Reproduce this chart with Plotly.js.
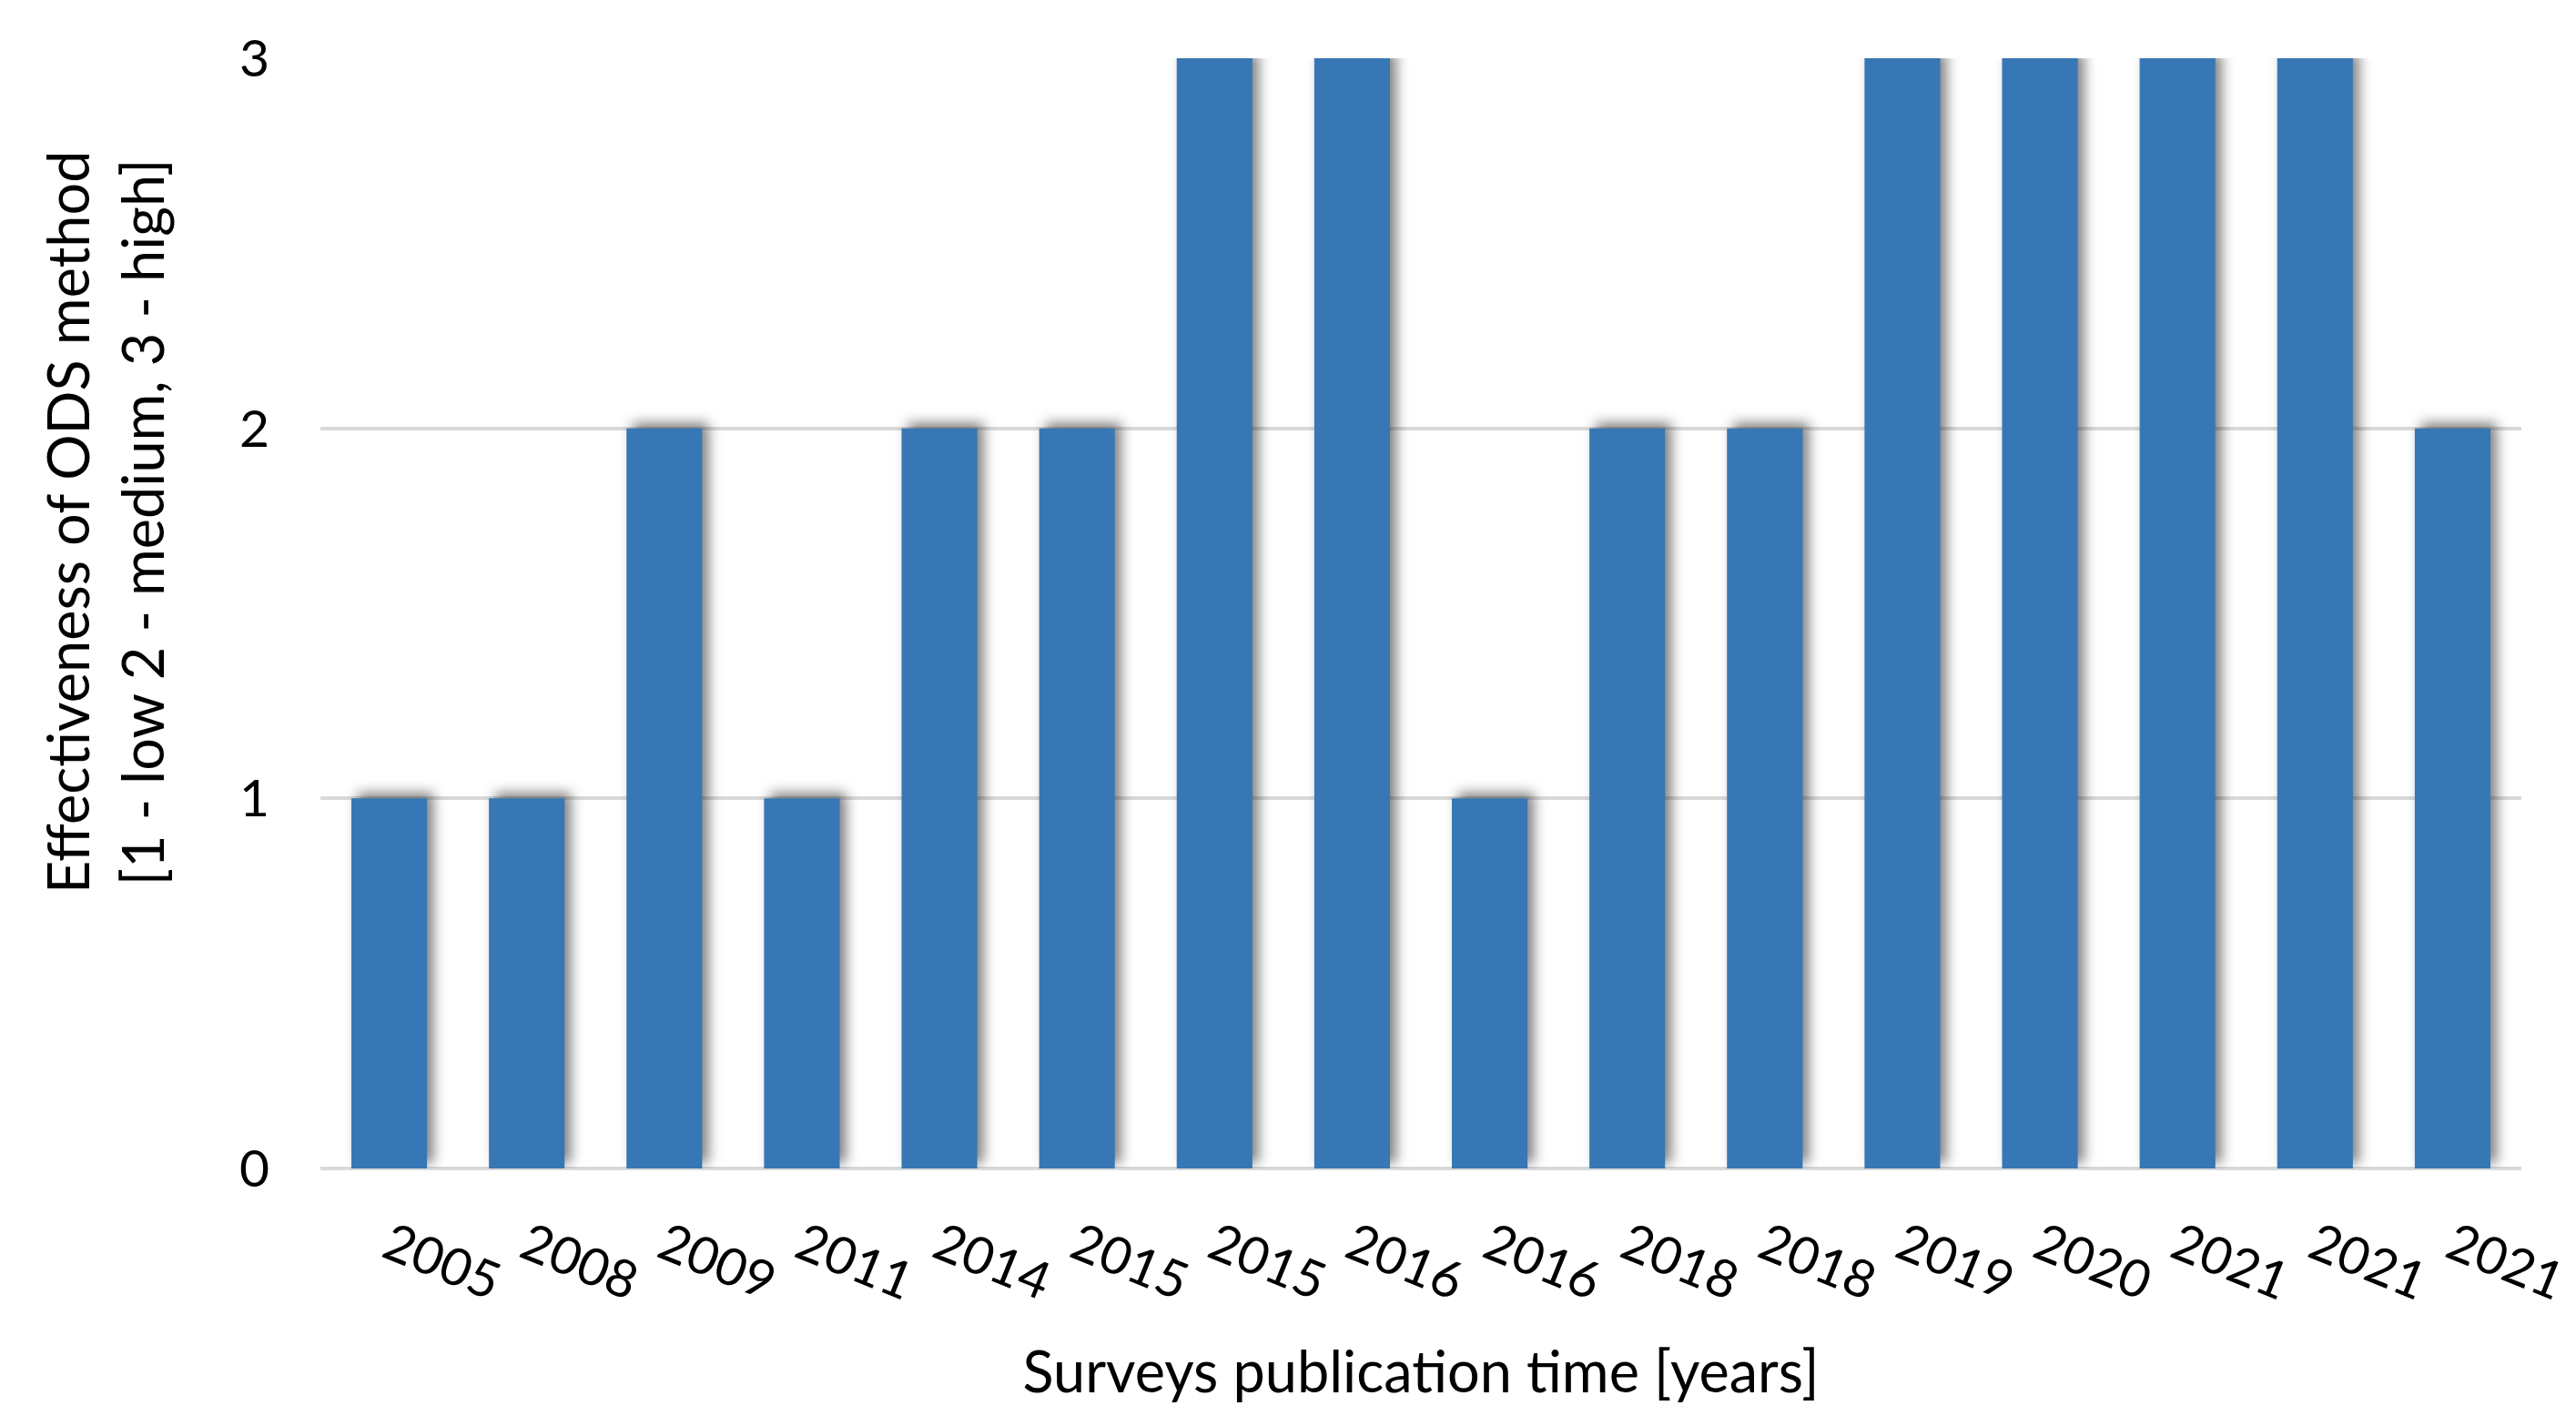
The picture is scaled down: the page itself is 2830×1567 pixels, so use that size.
<!DOCTYPE html>
<html>
<head>
<meta charset="utf-8">
<script src="https://cdn.plot.ly/plotly-3.0.1.min.js"></script>
<style>
  html, body { margin: 0; padding: 0; background: #fff; }
  #chart { width: 2830px; height: 1567px; }
  .barlayer .point path { filter: drop-shadow(7px -6px 7px rgba(0,0,0,0.5)); }
</style>
</head>
<body>
<div id="chart"></div>
<script>
// Data
const years = ['2005','2008','2009','2011','2014','2015','2015','2016','2016','2018','2018','2019','2020','2021','2021','2021'];
const effectiveness = [1, 1, 2, 1, 2, 2, 3, 3, 1, 2, 2, 3, 3, 3, 3, 2];
const yTicks = [0, 1, 2, 3];
const xTitle = 'Surveys publication time [years]';
const yTitle = 'Effectiveness of ODS method<br>[1 - low 2 - medium, 3 - high]';

// Surveys share years, so each bar gets its own slot; labels come from `years`
const slots = years.map((_, i) => i);

const FONT = 'Lato, "Open Sans", sans-serif';

const trace = {
  type: 'bar',
  x: slots,
  y: effectiveness,
  marker: { color: '#3777b5', line: { width: 0 } },
  hoverinfo: 'skip'
};

const layout = {
  width: 2830,
  height: 1567,
  margin: { l: 352, r: 60, t: 64, b: 283 },
  paper_bgcolor: '#ffffff',
  plot_bgcolor: '#ffffff',
  showlegend: false,
  bargap: 0.45,
  font: { family: FONT, color: '#000000' },
  xaxis: {
    type: 'linear',
    range: [-0.5, years.length - 0.5],
    tickmode: 'array',
    tickvals: slots,
    ticktext: years,
    tickangle: 22,
    tickfont: { family: FONT, size: 57, color: '#000000' },
    ticklabelstandoff: 40,
    showgrid: false,
    zeroline: false,
    showline: false,
    ticks: '',
    fixedrange: true,
    automargin: false,
    title: { text: xTitle, font: { family: FONT, size: 63, color: '#000000' }, standoff: 46 }
  },
  yaxis: {
    range: [0, 3],
    tickmode: 'array',
    tickvals: yTicks,
    tickfont: { family: FONT, size: 57, color: '#000000' },
    ticklabelstandoff: 55,
    showgrid: true,
    gridcolor: '#d9d9d9',
    gridwidth: 4,
    zeroline: true,
    zerolinecolor: '#d9d9d9',
    zerolinewidth: 4,
    showline: false,
    ticks: '',
    fixedrange: true,
    automargin: false
  },
  annotations: [{
    text: yTitle,
    xref: 'paper', yref: 'paper',
    x: -0.098, y: 0.582,
    xanchor: 'center', yanchor: 'middle',
    textangle: -90,
    showarrow: false,
    align: 'center',
    font: { family: FONT, size: 63, color: '#000000' }
  }]
};

Plotly.newPlot('chart', [trace], layout, { staticPlot: true, displayModeBar: false });
</script>
</body>
</html>
